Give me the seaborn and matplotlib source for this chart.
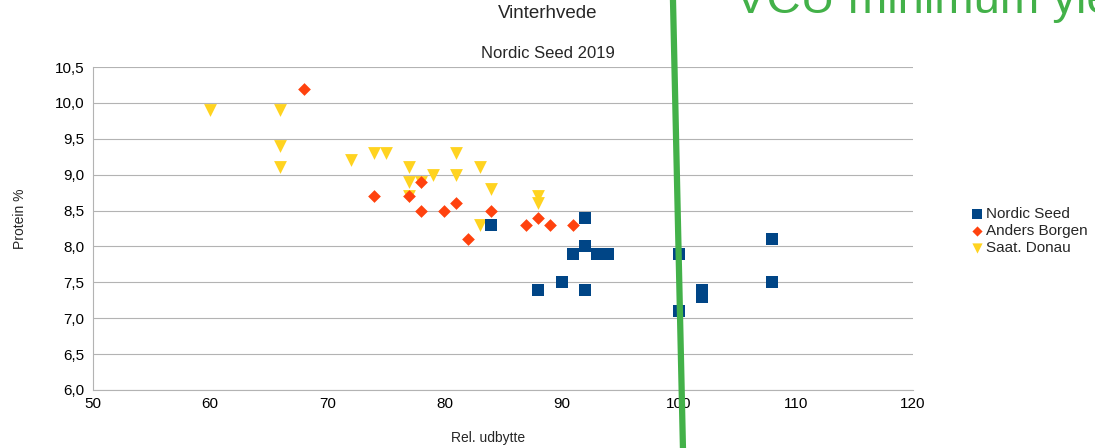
import pandas as pd
import matplotlib
matplotlib.use('Agg')
import matplotlib.pyplot as plt
from matplotlib.lines import Line2D
from matplotlib.ticker import FuncFormatter
import seaborn as sns

# rel. udbytte / protein % for hver forædler
nordic_x = [84, 88, 90, 92, 92, 92, 91, 93, 94, 100, 100, 102, 102, 108, 108]
nordic_y = [8.3, 7.4, 7.5, 7.4, 8.4, 8.0, 7.9, 7.9, 7.9, 7.9, 7.1, 7.4, 7.3, 8.1, 7.5]

anders_x = [68, 74, 77, 78, 78, 80, 81, 84, 82, 87, 88, 89, 91]
anders_y = [10.2, 8.7, 8.7, 8.9, 8.5, 8.5, 8.6, 8.5, 8.1, 8.3, 8.4, 8.3, 8.3]

donau_x = [60, 66, 66, 66, 72, 74, 75, 77, 77, 77, 78, 79, 81, 81, 83, 84, 83, 88, 88]
donau_y = [9.9, 9.9, 9.4, 9.1, 9.2, 9.3, 9.3, 9.1, 8.9, 8.7, 8.9, 9.0, 9.3, 9.0, 9.1, 8.8, 8.3, 8.7, 8.6]

series = ['Nordic Seed', 'Anders Borgen', 'Saat. Donau']

df = pd.concat([
    pd.DataFrame({'x': donau_x, 'y': donau_y, 'serie': series[2]}),
    pd.DataFrame({'x': anders_x, 'y': anders_y, 'serie': series[1]}),
    pd.DataFrame({'x': nordic_x, 'y': nordic_y, 'serie': series[0]}),
])

sns.set_style('white')
plt.rcParams['font.family'] = ['Liberation Sans', 'DejaVu Sans']

fig = plt.figure(figsize=(10.95, 4.48), dpi=100)
ax = fig.add_axes([0.0849, 0.1295, 0.7489, 0.7209])

farver = {'Nordic Seed': '#004586', 'Anders Borgen': '#ff420e', 'Saat. Donau': '#ffd320'}
markers = {'Nordic Seed': 's', 'Anders Borgen': 'D', 'Saat. Donau': 'v'}
sizes = {'Nordic Seed': 80, 'Anders Borgen': 42, 'Saat. Donau': 85}

for s in ['Saat. Donau', 'Anders Borgen', 'Nordic Seed']:
    d = df[df['serie'] == s]
    sns.scatterplot(x='x', y='y', data=d, ax=ax, color=farver[s], marker=markers[s],
                    s=sizes[s], linewidth=0, label=s, zorder=3)

ax.set_xlim(50, 120)
ax.set_ylim(6.0, 10.5)
ax.set_xticks(range(50, 121, 10))
ax.set_yticks([6.0 + 0.5 * i for i in range(10)])
ax.yaxis.set_major_formatter(FuncFormatter(lambda v, p: f'{v:.1f}'.replace('.', ',')))
ax.grid(axis='y', color='#b3b3b3', linewidth=0.8)
ax.grid(axis='x', visible=False)
for side in ['top', 'right']:
    ax.spines[side].set_visible(False)
for side in ['left', 'bottom']:
    ax.spines[side].set_color('#b3b3b3')
ax.tick_params(axis='both', length=4, color='#b3b3b3', labelsize=11, labelcolor='#000000', direction='out')
ax.tick_params(axis='x', pad=1)
ax.tick_params(axis='y', pad=2)
ax.set_xlabel('Rel. udbytte', fontsize=10)
ax.set_ylabel('Protein %', fontsize=10)
ax.xaxis.set_label_coords(0.4817, -0.127)
ax.yaxis.set_label_coords(-0.081, 0.53)

# legend
h, l = ax.get_legend_handles_labels()
order = [l.index(s) for s in series]
ax.legend([h[i] for i in order], [l[i] for i in order], loc='center left',
          bbox_to_anchor=(0.877, 0.484), bbox_transform=fig.transFigure, frameon=False,
          fontsize=11, handletextpad=0.0, labelspacing=0.2, markerscale=0.8,
          borderpad=0, handlelength=1.2)

fig.text(0.5005, 0.97, 'Vinterhvede', ha='center', va='center', fontsize=13.5)
fig.text(0.5, 0.881, 'Nordic Seed 2019', ha='center', va='center', fontsize=12)

# grøn VCU-linje lagt ovenpå
fig.add_artist(Line2D([0.6146, 0.6237], [1.0, 0.0], transform=fig.transFigure,
                      color='#43b149', linewidth=4.5, zorder=10))
fig.text(0.671, 0.971, 'VCU minimum yield', color='#43b149', fontsize=34,
         ha='left', va='baseline')

plt.savefig('out.png', dpi=100)
